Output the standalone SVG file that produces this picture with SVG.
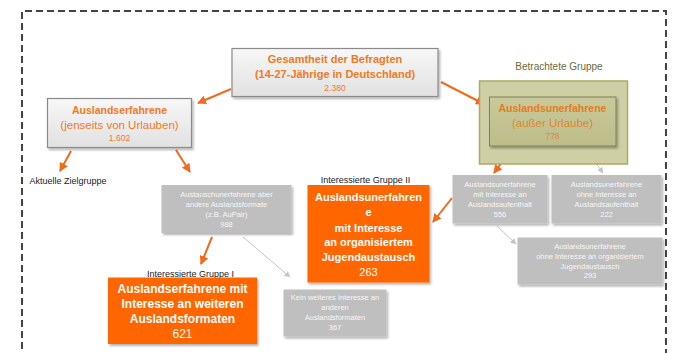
<svg xmlns="http://www.w3.org/2000/svg" width="673" height="353" viewBox="0 0 673 353">
<style>
text{font-family:"Liberation Sans",Arial,sans-serif;text-anchor:middle}
.box{fill:url(#gbox);stroke:#8a8a8a;stroke-width:1.2}
.ot{fill:#f07a24}
.b{font-weight:bold}
.grey{fill:#bfbfbf}
.gt{fill:#f7f7f7;font-size:7.5px}
.orange{fill:#ff6600}
.wt{fill:#ffffff;font-weight:bold}
.lbl{fill:#222222;font-size:9px}
.oa{stroke:#f26a1b;stroke-width:2;fill:none;marker-end:url(#ah)}
.ga{stroke:#c4c4c4;stroke-width:1;fill:none;marker-end:url(#gh)}
</style>
<defs>
<linearGradient id="gbox" x1="0" y1="0" x2="0" y2="1">
<stop offset="0" stop-color="#f7f7f7"/>
<stop offset="1" stop-color="#e1e1e1"/>
</linearGradient>
<linearGradient id="olv" x1="0" y1="0" x2="0" y2="1">
<stop offset="0" stop-color="#c9c99a"/>
<stop offset="1" stop-color="#bdbd8a"/>
</linearGradient>
<filter id="sh" x="-10%" y="-10%" width="130%" height="130%">
<feDropShadow dx="1.5" dy="2" stdDeviation="1.2" flood-color="#000" flood-opacity="0.3"/>
</filter>
<marker id="ah" markerUnits="userSpaceOnUse" markerWidth="9" markerHeight="9" refX="8" refY="4.5" orient="auto">
<path d="M0,0 L9,4.5 L0,9 z" fill="#f26a1b"/>
</marker>
<marker id="gh" markerUnits="userSpaceOnUse" markerWidth="6" markerHeight="6" refX="5.5" refY="3" orient="auto">
<path d="M0,0 L6,3 L0,6 z" fill="#c4c4c4"/>
</marker>
</defs>
<rect width="673" height="353" fill="#ffffff"/>
<path d="M22,360 V11 H666 V360" fill="none" stroke="#444444" stroke-width="2" stroke-dasharray="7 4"/>

<g id="connectors">
<line class="oa" x1="231" y1="89" x2="198" y2="103"/>
<line class="oa" x1="441" y1="82" x2="484" y2="104"/>
<line class="oa" x1="71" y1="151" x2="60" y2="171"/>
<line class="oa" x1="176" y1="150" x2="190" y2="172"/>
<line class="oa" x1="212" y1="237" x2="201" y2="264"/>
<line class="ga" x1="243" y1="237" x2="290" y2="277"/>
<line class="oa" x1="513" y1="147" x2="494" y2="173"/>
<line class="ga" x1="586" y1="149" x2="603" y2="173"/>
<line class="oa" x1="452" y1="198" x2="433" y2="222"/>
<line class="ga" x1="497" y1="226" x2="516" y2="244"/>
</g>

<g id="gesamt">
<rect class="box" x="232" y="48.5" width="206" height="48" filter="url(#sh)"/>
<text class="ot b" x="335" y="63" font-size="11">Gesamtheit der Befragten</text>
<text class="ot b" x="335" y="77.5" font-size="11">(14-27-Jährige in Deutschland)</text>
<text class="ot" x="335" y="90.5" font-size="8.5">2.380</text>
</g>

<g id="erfahrene">
<rect class="box" x="47.5" y="98.5" width="144" height="49" filter="url(#sh)"/>
<text class="ot b" x="119.5" y="113.5" font-size="10.5">Auslandserfahrene</text>
<text class="ot" x="119.5" y="129" font-size="11.5">(jenseits von Urlauben)</text>
<text class="ot" x="119.5" y="140.5" font-size="8.5">1.602</text>
</g>

<g id="betrachtet">
<text x="559" y="69.5" font-size="10" fill="#6b6b3c">Betrachtete Gruppe</text>
<rect x="479.5" y="81" width="148" height="83" fill="#cfcfa5" stroke="#abab62" stroke-width="1.5"/>
</g>

<g id="unerfahrene">
<rect x="489.5" y="97" width="126.5" height="49" fill="url(#olv)" stroke="#7f7f5a" stroke-width="1" filter="url(#sh)"/>
<text class="b" x="552.5" y="112" font-size="10.5" fill="#e47d22">Auslandsunerfahrene</text>
<text x="552.5" y="127" font-size="11.5" fill="#e2862f">(außer Urlaube)</text>
<text x="552.5" y="139" font-size="8.5" fill="#e2862f">778</text>
</g>

<g id="zielgruppe">
<text class="lbl" x="68" y="184">Aktuelle Zielgruppe</text>
</g>

<g id="aupair">
<rect class="grey" x="161.5" y="185" width="130" height="48" filter="url(#sh)"/>
<text class="gt" x="226.5" y="197">Austauschunerfahrene aber</text>
<text class="gt" x="226.5" y="207">andere Auslandsformate</text>
<text class="gt" x="226.5" y="216.5">(z.B. AuPair)</text>
<text class="gt" x="226.5" y="226.5">988</text>
</g>

<g id="gruppe1">
<text class="lbl" x="190.5" y="277">Interessierte Gruppe I</text>
<rect class="orange" x="108" y="277.5" width="149" height="66.5" filter="url(#sh)"/>
<text class="wt" x="182.5" y="293" font-size="12">Auslandserfahrene mit</text>
<text class="wt" x="182.5" y="308" font-size="12">Interesse an weiteren</text>
<text class="wt" x="182.5" y="323" font-size="12">Auslandsformaten</text>
<text x="182.5" y="337.5" font-size="12" fill="#ffffff">621</text>
</g>

<g id="kein">
<rect class="grey" x="283.5" y="289.5" width="103" height="47" filter="url(#sh)"/>
<text class="gt" x="335" y="300">Kein weiteres Interesse an</text>
<text class="gt" x="335" y="310">anderen</text>
<text class="gt" x="335" y="320">Auslandsformaten</text>
<text class="gt" x="335" y="330">367</text>
</g>

<g id="gruppe2">
<text class="lbl" x="365.5" y="183">Interessierte Gruppe II</text>
<rect class="orange" x="307.5" y="185" width="122" height="97.5" filter="url(#sh)"/>
<text class="wt" x="368.5" y="201" font-size="11">Auslandsunerfahren</text>
<text class="wt" x="368.5" y="216" font-size="11">e</text>
<text class="wt" x="368.5" y="231.5" font-size="11">mit Interesse</text>
<text class="wt" x="368.5" y="246" font-size="11">an organisiertem</text>
<text class="wt" x="368.5" y="261" font-size="11">Jugendaustausch</text>
<text x="368.5" y="275.5" font-size="11" fill="#ffffff">263</text>
</g>

<g id="mitinteresse">
<rect class="grey" x="452.5" y="175" width="95" height="48.5" filter="url(#sh)"/>
<text class="gt" x="500" y="187">Auslandsunerfahrene</text>
<text class="gt" x="500" y="197">mit Interesse an</text>
<text class="gt" x="500" y="207">Auslandsaufenthalt</text>
<text class="gt" x="500" y="216.5">556</text>
</g>

<g id="ohneinteresse">
<rect class="grey" x="551.5" y="175" width="110" height="48.5" filter="url(#sh)"/>
<text class="gt" x="606.5" y="187">Auslandsunerfahrene</text>
<text class="gt" x="606.5" y="197">ohne Interesse an</text>
<text class="gt" x="606.5" y="207">Auslandsaufenthalt</text>
<text class="gt" x="606.5" y="216.5">222</text>
</g>

<g id="ohnejugend">
<rect class="grey" x="517.5" y="237.5" width="145" height="47" filter="url(#sh)"/>
<text class="gt" x="590" y="248.5">Auslandsunerfahrene</text>
<text class="gt" x="590" y="258.5">ohne Interesse an organisiertem</text>
<text class="gt" x="590" y="268.5">Jugendaustausch</text>
<text class="gt" x="590" y="278">293</text>
</g>
</svg>
